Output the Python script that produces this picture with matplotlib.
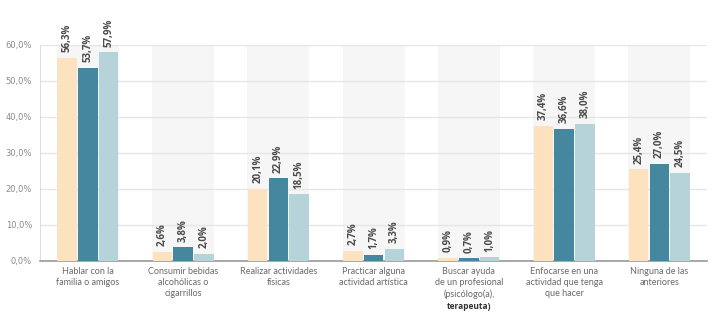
import numpy as np
import matplotlib.pyplot as plt

categories = ['Hablar con la\nfamilia o amigos', 'Consumir bebidas\nalcohólicas o\ncigarrillos',
              'Realizar actividades\nfísicas', 'Practicar alguna\nactividad artística',
              'Buscar ayuda\nde un profesional\n(psicólogo(a),',
              'Enfocarse en una\nactividad que tenga\nque hacer', 'Ninguna de las\nanteriores']
serie_1 = [56.3, 2.6, 20.1, 2.7, 0.9, 37.4, 25.4]
serie_2 = [53.7, 3.8, 22.9, 1.7, 0.7, 36.6, 27.0]
serie_3 = [57.9, 2.0, 18.5, 3.3, 1.0, 38.0, 24.5]
colores = ['#FDE2C0', '#44879E', '#B6D3DA']
yticks = [0, 10, 20, 30, 40, 50, 60]

fig = plt.figure(figsize=(7.2, 3.25), dpi=100)
ax = fig.add_axes([0.056, 0.197, 0.926, 0.665])

x = np.arange(len(categories))
w = 0.205
# fondo gris de cada grupo
ax.bar(x, [60] * len(x), width=0.65, color='#F6F6F6', zorder=0)
for i, (vals, c) in enumerate(zip([serie_1, serie_2, serie_3], colores)):
    pos = x + (i - 1) * 0.218
    ax.bar(pos, vals, width=w, color=c, zorder=3)
    for p, v in zip(pos, vals):
        ax.text(p, v + 1.6, f'{v:.1f}%'.replace('.', ','), rotation=90, ha='center', va='bottom',
                fontsize=7, fontweight='bold', color='#4a4a4a', family='Open Sans', zorder=4)

ax.set_xlim(-0.5, 6.5)
ax.set_ylim(0, 60)
ax.set_yticks(yticks)
ax.set_yticklabels([f'{t:.1f}%'.replace('.', ',') for t in yticks], fontsize=6, color='#8a8a8a')
ax.set_xticks(x)
ax.set_xticklabels(categories, fontsize=6.5, color='#6a6a6a', family='Lato', linespacing=1.35)
ax.tick_params(axis='y', length=0, pad=6)
ax.tick_params(axis='x', length=0, pad=4)
# última línea de la etiqueta 5, en otra tipografía como en el original
ax.annotate('terapeuta)', xy=(4, 0), xycoords=('data', 'axes fraction'), xytext=(0, -33),
            textcoords='offset points', ha='center', va='center', fontsize=6,
            fontweight='bold', color='#333333', family='Open Sans')
ax.grid(axis='y', color='#E6E6E6', linewidth=1, zorder=1)
ax.set_axisbelow(True)
for s in ['top', 'right']:
    ax.spines[s].set_visible(False)
ax.spines['left'].set_color('#DDDDDD')
ax.spines['bottom'].set_color('#999999')
ax.spines['bottom'].set_linewidth(1.2)

fig.savefig('out.png', dpi=100)
